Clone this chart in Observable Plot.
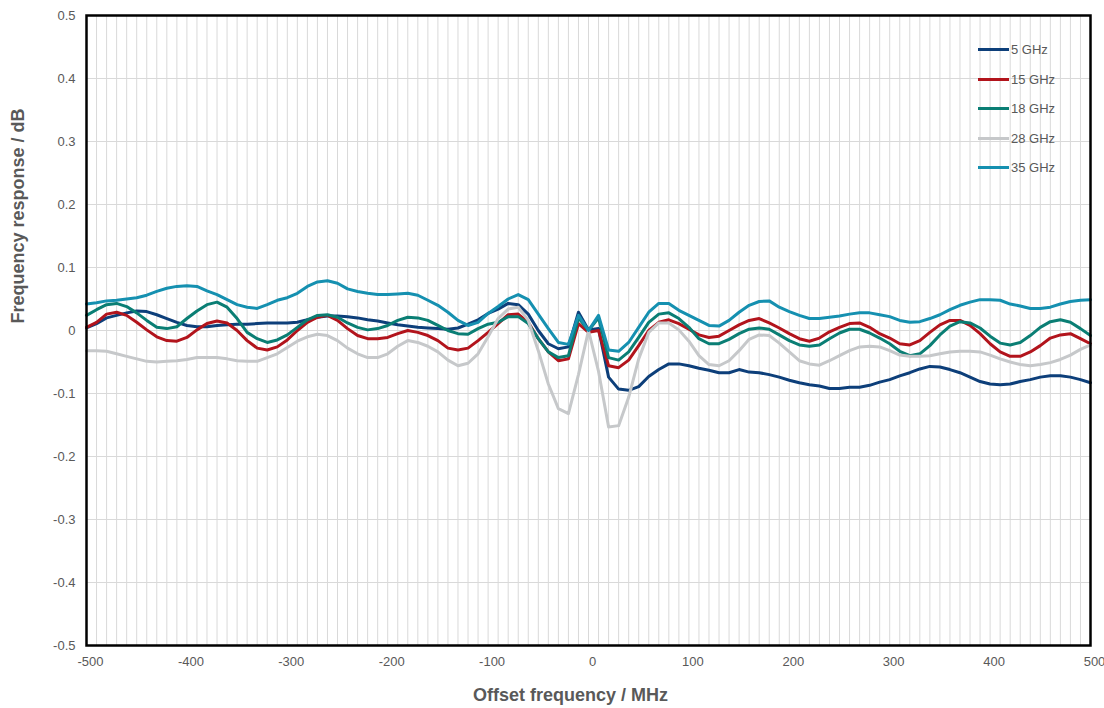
<!DOCTYPE html>
<html>
<head>
<meta charset="utf-8">
<script src="https://cdn.jsdelivr.net/npm/d3@7"></script>
<script src="https://cdn.jsdelivr.net/npm/@observablehq/plot@0.6"></script>
<style>
  html, body { margin: 0; padding: 0; background: #fff; }
  #wrap { position: relative; width: 1104px; height: 708px; font-family: "Liberation Sans", Arial, sans-serif; }
  #legend { position: absolute; left: 978px; top: 35px; }
  .li { display: flex; align-items: center; height: 29.5px; font-size: 13px; color: #595959; }
  .sw { width: 31px; height: 3px; margin-right: 2px; }
</style>
</head>
<body>
<div id="wrap"><div id="legend"></div></div>
<script>
// Offset frequency / MHz (sample points every 10 MHz)
const freq = d3.range(-500, 501, 10);

const seriesNames = ["5 GHz", "15 GHz", "18 GHz", "28 GHz", "35 GHz"];
const seriesColors = ["#0d3f7a", "#b2141c", "#0a7e74", "#c6c8ca", "#1590b0"];

const v5 = [
  0.004, 0.011, 0.020, 0.024, 0.028, 0.031, 0.030, 0.025, 0.019, 0.013,
  0.008, 0.006, 0.006, 0.008, 0.009, 0.010, 0.010, 0.011, 0.012, 0.012,
  0.012, 0.013, 0.017, 0.021, 0.023, 0.023, 0.022, 0.020, 0.017, 0.015,
  0.012, 0.009, 0.007, 0.005, 0.004, 0.003, 0.002, 0.004, 0.010, 0.017,
  0.027, 0.034, 0.043, 0.041, 0.026, 0.000, -0.021, -0.029, -0.026, 0.029,
  0.001, 0.003, -0.074, -0.093, -0.095, -0.089, -0.073, -0.062, -0.053, -0.053,
  -0.056, -0.060, -0.063, -0.067, -0.067, -0.062, -0.066, -0.067, -0.070, -0.074,
  -0.079, -0.083, -0.086, -0.088, -0.092, -0.092, -0.090, -0.090, -0.087, -0.082,
  -0.078, -0.072, -0.067, -0.061, -0.057, -0.058, -0.062, -0.067, -0.074, -0.081,
  -0.085, -0.086, -0.085, -0.081, -0.078, -0.074, -0.072, -0.072, -0.074, -0.078,
  -0.083
];
const v15 = [
  0.005, 0.013, 0.026, 0.029, 0.024, 0.013, 0.001, -0.010, -0.016, -0.017,
  -0.011, 0.001, 0.011, 0.015, 0.012, 0.000, -0.016, -0.028, -0.031, -0.026,
  -0.015, 0.000, 0.013, 0.021, 0.024, 0.016, 0.003, -0.008, -0.013, -0.013,
  -0.011, -0.005, 0.000, -0.003, -0.008, -0.016, -0.028, -0.031, -0.028, -0.016,
  -0.003, 0.011, 0.025, 0.026, 0.013, -0.013, -0.034, -0.048, -0.045, 0.011,
  -0.003, 0.000, -0.056, -0.059, -0.047, -0.024, 0.000, 0.013, 0.017, 0.011,
  0.002, -0.007, -0.011, -0.009, 0.000, 0.009, 0.016, 0.019, 0.012, 0.004,
  -0.005, -0.013, -0.017, -0.012, -0.002, 0.005, 0.011, 0.012, 0.005, -0.005,
  -0.012, -0.021, -0.023, -0.016, -0.003, 0.009, 0.016, 0.016, 0.008, -0.005,
  -0.021, -0.034, -0.041, -0.041, -0.034, -0.024, -0.012, -0.007, -0.005, -0.013,
  -0.021
];
const v18 = [
  0.024, 0.033, 0.041, 0.043, 0.038, 0.028, 0.016, 0.005, 0.003, 0.006,
  0.019, 0.031, 0.041, 0.045, 0.037, 0.019, -0.003, -0.013, -0.019, -0.015,
  -0.007, 0.005, 0.017, 0.024, 0.025, 0.021, 0.012, 0.005, 0.001, 0.003,
  0.008, 0.016, 0.021, 0.020, 0.016, 0.008, 0.000, -0.005, -0.006, 0.003,
  0.010, 0.013, 0.022, 0.022, 0.011, -0.013, -0.034, -0.043, -0.040, 0.020,
  0.000, 0.020, -0.043, -0.047, -0.034, -0.011, 0.013, 0.026, 0.028, 0.019,
  0.005, -0.013, -0.021, -0.021, -0.014, -0.005, 0.002, 0.004, 0.002, -0.007,
  -0.016, -0.023, -0.025, -0.023, -0.013, -0.004, 0.002, 0.002, -0.004, -0.012,
  -0.021, -0.033, -0.040, -0.037, -0.024, -0.007, 0.007, 0.014, 0.012, 0.004,
  -0.009, -0.020, -0.023, -0.019, -0.008, 0.005, 0.014, 0.017, 0.013, 0.003,
  -0.008
];
const v28 = [
  -0.032, -0.032, -0.033, -0.037, -0.041, -0.045, -0.049, -0.050, -0.049, -0.048,
  -0.046, -0.043, -0.043, -0.043, -0.045, -0.048, -0.049, -0.049, -0.043, -0.037,
  -0.027, -0.017, -0.010, -0.006, -0.008, -0.016, -0.028, -0.037, -0.043, -0.043,
  -0.037, -0.025, -0.016, -0.019, -0.025, -0.034, -0.047, -0.056, -0.052, -0.037,
  -0.010, 0.019, 0.034, 0.037, 0.016, -0.032, -0.085, -0.124, -0.132, -0.070,
  0.000, -0.065, -0.153, -0.151, -0.106, -0.045, -0.003, 0.012, 0.012, 0.001,
  -0.017, -0.040, -0.054, -0.056, -0.048, -0.032, -0.014, -0.007, -0.008, -0.020,
  -0.034, -0.048, -0.053, -0.055, -0.048, -0.040, -0.032, -0.026, -0.025, -0.026,
  -0.032, -0.039, -0.041, -0.041, -0.040, -0.037, -0.034, -0.033, -0.033, -0.034,
  -0.039, -0.045, -0.050, -0.054, -0.056, -0.054, -0.051, -0.046, -0.039, -0.030,
  -0.023
];
const v35 = [
  0.042, 0.044, 0.047, 0.048, 0.050, 0.052, 0.056, 0.062, 0.067, 0.070,
  0.071, 0.070, 0.063, 0.057, 0.049, 0.041, 0.037, 0.035, 0.041, 0.048,
  0.052, 0.059, 0.070, 0.077, 0.079, 0.075, 0.066, 0.062, 0.059, 0.057,
  0.057, 0.058, 0.059, 0.056, 0.048, 0.040, 0.029, 0.016, 0.008, 0.013,
  0.027, 0.038, 0.050, 0.057, 0.049, 0.026, 0.003, -0.019, -0.022, 0.024,
  0.000, 0.024, -0.031, -0.033, -0.019, 0.005, 0.029, 0.043, 0.043, 0.032,
  0.024, 0.016, 0.008, 0.007, 0.016, 0.029, 0.040, 0.046, 0.047, 0.037,
  0.030, 0.024, 0.019, 0.019, 0.021, 0.023, 0.026, 0.028, 0.028, 0.025,
  0.022, 0.016, 0.013, 0.014, 0.019, 0.025, 0.033, 0.040, 0.045, 0.049,
  0.049, 0.048, 0.042, 0.039, 0.035, 0.035, 0.037, 0.042, 0.046, 0.048,
  0.049
];

const xTicks = [-500, -400, -300, -200, -100, 0, 100, 200, 300, 400, 500];
const yTicks = [-0.5, -0.4, -0.3, -0.2, -0.1, 0, 0.1, 0.2, 0.3, 0.4, 0.5];
const xTitle = "Offset frequency / MHz";
const yTitle = "Frequency response / dB";

const allValues = [v5, v15, v18, v28, v35];
const data = [];
allValues.forEach((vals, si) => {
  vals.forEach((v, i) => data.push({series: seriesNames[si], f: freq[i], v}));
});

const fmtY = d => d === 0 ? "0" : (d < 0 ? "-" : "") + Math.abs(d).toFixed(1);
const fmtX = d => (d < 0 ? "-" : "") + Math.abs(d);

const chart = Plot.plot({
  width: 1104,
  height: 708,
  marginLeft: 86,
  marginRight: 14,
  marginTop: 15,
  marginBottom: 63,
  style: {fontFamily: "'Liberation Sans', Arial, sans-serif", fontSize: "13px", background: "#fff"},
  x: {domain: [-500, 500]},
  y: {domain: [-0.5, 0.5]},
  color: {domain: seriesNames, range: seriesColors},
  marks: [
    Plot.gridX(freq, {stroke: "#d9d9d9", strokeOpacity: 1, strokeWidth: 1}),
    Plot.gridY(yTicks, {stroke: "#d9d9d9", strokeOpacity: 1, strokeWidth: 1}),
    Plot.line(data, {x: "f", y: "v", z: "series", stroke: "series", strokeWidth: 3, strokeLinejoin: "round", strokeLinecap: "round"}),
    Plot.frame({stroke: "#000", strokeWidth: 2.5}),
    Plot.axisX(xTicks, {tickSize: 0, tickPadding: 11, dx: 4, tickFormat: fmtX, fill: "#595959", fontSize: 13, label: null}),
    Plot.axisY(yTicks, {tickSize: 0, tickPadding: 11, tickFormat: fmtY, fill: "#595959", fontSize: 13, label: null}),
    Plot.text([xTitle], {frameAnchor: "bottom", dy: 55, dx: -18, text: d => d, fontSize: 18, fontWeight: "bold", fill: "#595959"}),
    Plot.text([yTitle], {frameAnchor: "left", dx: -68, dy: -7, rotate: -90, text: d => d, fontSize: 18, fontWeight: "bold", fill: "#595959"})
  ]
});

const wrap = document.getElementById("wrap");
wrap.insertBefore(chart, wrap.firstChild);

const legend = document.getElementById("legend");
seriesNames.forEach((name, i) => {
  const row = document.createElement("div");
  row.className = "li";
  const sw = document.createElement("div");
  sw.className = "sw";
  sw.style.background = seriesColors[i];
  const t = document.createElement("span");
  t.textContent = name;
  row.appendChild(sw);
  row.appendChild(t);
  legend.appendChild(row);
});
</script>
</body>
</html>
